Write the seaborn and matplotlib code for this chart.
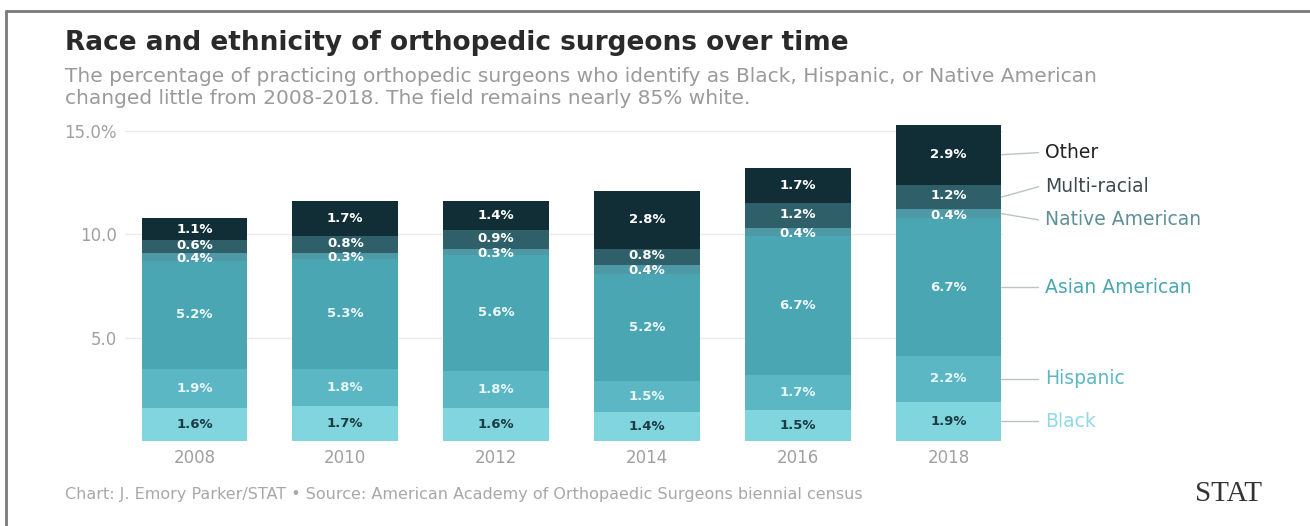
import numpy as np
import pandas as pd
import matplotlib
matplotlib.use("Agg")
import matplotlib.pyplot as plt
from matplotlib.lines import Line2D
import seaborn as sns

# ---- data ----
years = ["2008", "2010", "2012", "2014", "2016", "2018"]
groups = ["Black", "Hispanic", "Asian American", "Native American", "Multi-racial", "Other"]
black = [1.6, 1.7, 1.6, 1.4, 1.5, 1.9]
hispanic = [1.9, 1.8, 1.8, 1.5, 1.7, 2.2]
asian = [5.2, 5.3, 5.6, 5.2, 6.7, 6.7]
native = [0.4, 0.3, 0.3, 0.4, 0.4, 0.4]
multi = [0.6, 0.8, 0.9, 0.8, 1.2, 1.2]
other = [1.1, 1.7, 1.4, 2.8, 1.7, 2.9]
y_ticks = [5, 10, 15]
y_tick_labels = ["5.0", "10.0", "15.0%"]

series = [black, hispanic, asian, native, multi, other]
colors = ["#80d5df", "#5cb7c4", "#4aa6b3", "#4e99a5", "#2f5f69", "#112e37"]
label_colors = ["#8fdae3", "#5cb7c4", "#4aa6b3", "#5f8f99", "#3c4a4f", "#222222"]
value_colors = ["#1d3b42", "#e8f6f8", "#eef8fa", "#ffffff", "#ffffff", "#ffffff"]

sns.set_theme(style="white")
plt.rcParams["font.family"] = ["DejaVu Sans"]

fig = plt.figure(figsize=(13.1, 5.26), dpi=100)
W, H = 1310, 526
ax = fig.add_axes([125 / W, (H - 441) / H, (1003 - 125) / W, (441 - 120.6) / H])

vals = np.array(series)
cum = np.cumsum(vals, axis=0)
df = pd.DataFrame({"year": years})

# draw cumulative bars from top layer down so each layer shows its segment
for i in range(len(series) - 1, -1, -1):
    df["h"] = cum[i]
    sns.barplot(data=df, x="year", y="h", color=colors[i], width=0.7,
                saturation=1, ax=ax, linewidth=0, zorder=3)

ax.set_ylim(0, 15.5)
ax.set_xlim(-0.46, 5.36)
ax.set_yticks(y_ticks)
ax.set_yticklabels(y_tick_labels)
ax.set_xlabel("")
ax.set_ylabel("")
ax.tick_params(axis="y", length=0, pad=6, labelsize=12, labelcolor="#a0a0a0")
ax.tick_params(axis="x", length=0, pad=6, labelsize=12, labelcolor="#a0a0a0")
for s in ax.spines.values():
    s.set_visible(False)
ax.grid(axis="y", color="#ebebeb", linewidth=1, zorder=0)
ax.set_axisbelow(True)

# value labels (small adjacent segments nudged apart slightly)
nudge = [0, 0, 0, -0.07, 0.07, 0]
for i, vals_i in enumerate(series):
    bottoms = cum[i] - np.array(vals_i)
    for j, v in enumerate(vals_i):
        ax.text(j, bottoms[j] + v / 2 + nudge[i], f"{v:.1f}%", ha="center", va="center",
                fontsize=9.5, fontweight="bold", color=value_colors[i], zorder=5)

# right-side labels for last bar
last = len(years) - 1
offsets = [0, 0, 0, -0.3, 0.5, 0.1]
x0, x1, xt = last + 0.35, last + 0.595, last + 0.64
for i, g in enumerate(groups):
    mid = cum[i][last] - series[i][last] / 2
    ly = mid + offsets[i]
    ax.plot([x0, x1], [mid, ly], color="#b9c4c6", linewidth=1, clip_on=False, zorder=4)
    ax.text(xt, ly, g, ha="left", va="center", fontsize=13.5, color=label_colors[i],
            clip_on=False)

# title, subtitle, footer
fig.text(65 / W, 1 - 43 / H, "Race and ethnicity of orthopedic surgeons over time",
         fontsize=19, fontweight="bold", color="#2a2a2a", va="center", ha="left")
fig.text(65 / W, 1 - 76 / H,
         "The percentage of practicing orthopedic surgeons who identify as Black, Hispanic, or Native American",
         fontsize=14.5, color="#9a9a9a", va="center", ha="left")
fig.text(65 / W, 1 - 99 / H,
         "changed little from 2008-2018. The field remains nearly 85% white.",
         fontsize=14.5, color="#9a9a9a", va="center", ha="left")
fig.text(65 / W, 1 - 495 / H,
         "Chart: J. Emory Parker/STAT \u2022 Source: American Academy of Orthopaedic Surgeons biennial census",
         fontsize=11.5, color="#a8a8a8", va="center", ha="left")
fig.text(1262 / W, 1 - 494 / H, "STAT", fontsize=21, color="#333333", va="center",
         ha="right", family="Liberation Serif")

# frame lines (top and left)
fig.add_artist(Line2D([6 / W, 6 / W], [0, 1 - 11 / H], color="#7a7a7a", linewidth=2,
                      transform=fig.transFigure))
fig.add_artist(Line2D([6 / W, 1], [1 - 11 / H, 1 - 11 / H], color="#7a7a7a", linewidth=2,
                      transform=fig.transFigure))

fig.savefig("out.png", dpi=100)
